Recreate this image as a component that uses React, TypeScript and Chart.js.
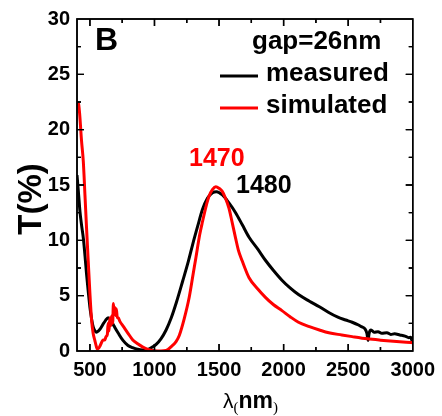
import React, { useEffect, useRef } from "react";
import { Chart, registerables } from "chart.js";

Chart.register(...registerables);

// ---- data ----
const measuredNm = [400, 410, 423, 435, 449, 462, 474, 487, 500, 513, 526, 540, 551, 565, 580, 603, 620, 641, 660, 680, 692, 720, 756, 795, 830, 870, 910, 936, 960, 990, 1013, 1050, 1090, 1130, 1170, 1218, 1260, 1295, 1335, 1372, 1410, 1449, 1480, 1526, 1575, 1628, 1680, 1731, 1800, 1859, 1920, 1987, 2050, 2115, 2200, 2277, 2346, 2420, 2480, 2531, 2580, 2602, 2630, 2645, 2654, 2662, 2677, 2700, 2731, 2760, 2800, 2830, 2859, 2900, 2940, 2970, 2985, 2995, 3000];
const measuredT = [15.9, 14.5, 12.6, 11.4, 10.2, 8.6, 6.95, 5.4, 3.95, 2.9, 2.15, 1.8, 1.7, 1.8, 2.0, 2.45, 2.75, 3.0, 2.8, 2.4, 2.15, 1.6, 0.96, 0.5, 0.3, 0.15, 0.1, 0.1, 0.2, 0.4, 0.6, 1.1, 1.9, 3.0, 4.4, 6.3, 8.0, 9.6, 11.3, 12.8, 13.8, 14.3, 14.4, 14.1, 13.4, 12.5, 11.4, 10.3, 9.2, 8.2, 7.3, 6.4, 5.7, 5.1, 4.5, 4.0, 3.5, 3.05, 2.8, 2.6, 2.35, 2.2, 2.0, 1.6, 0.95, 1.6, 1.9, 1.7, 1.75, 1.6, 1.65, 1.5, 1.55, 1.45, 1.35, 1.2, 1.25, 0.9, 1.0];

const simulatedNm = [400, 410, 420, 435, 449, 462, 474, 487, 500, 513, 525, 538, 550, 556, 565, 580, 603, 615, 625, 635, 641, 648, 655, 662, 670, 676, 682, 688, 695, 700, 705, 712, 720, 731, 760, 795, 832, 870, 910, 950, 1000, 1050, 1090, 1130, 1167, 1192, 1230, 1269, 1300, 1321, 1350, 1372, 1400, 1423, 1450, 1475, 1500, 1526, 1550, 1577, 1600, 1628, 1650, 1679, 1700, 1731, 1800, 1859, 1920, 1987, 2050, 2115, 2200, 2277, 2350, 2450, 2531, 2650, 2750, 2850, 2950, 3000];
const simulatedT = [22.4, 22.4, 21.5, 19.0, 17.1, 14.0, 11.1, 8.1, 5.2, 2.8, 1.6, 0.96, 0.4, 0.2, 0.2, 0.5, 1.0, 1.0, 1.3, 1.5, 2.5, 1.8, 3.0, 2.3, 3.2, 2.5, 4.3, 3.3, 3.9, 3.2, 3.8, 3.0, 3.0, 2.7, 2.2, 1.6, 1.0, 0.65, 0.35, 0.15, 0.03, 0, 0.05, 0.4, 0.85, 1.4, 2.9, 4.85, 7.0, 8.45, 10.5, 11.7, 13.1, 14.0, 14.6, 14.85, 14.7, 14.4, 13.8, 12.9, 11.7, 10.2, 9.1, 8.15, 7.5, 6.65, 5.6, 4.85, 4.2, 3.65, 3.1, 2.6, 2.2, 1.9, 1.65, 1.45, 1.3, 1.1, 0.98, 0.88, 0.8, 0.75];

const xTicks = [500, 1000, 1500, 2000, 2500, 3000];
const xMinorTicks = [500, 750, 1000, 1250, 1500, 1750, 2000, 2250, 2500, 2750, 3000];
const yTicks = [0, 5, 10, 15, 20, 25, 30];
const yMinorTicks = [0, 2.5, 5, 7.5, 10, 12.5, 15, 17.5, 20, 22.5, 25, 27.5, 30];

const panelLabel = "B";
const legendTitle = "gap=26nm";
const seriesNames = ["measured", "simulated"];
const peakLabels = ["1470", "1480"];
const yTitle = "T(%)";

const SANS = "'Liberation Sans', Arial, Helvetica, sans-serif";
const SERIF = "'Liberation Serif', 'Times New Roman', serif";

function drawFrame(chart: any) {
  const ctx = chart.ctx as CanvasRenderingContext2D;
  const xs = chart.scales.x;
  const ys = chart.scales.y;
  const L = xs.getPixelForValue(400);
  const R = xs.getPixelForValue(3000);
  const Tp = ys.getPixelForValue(30);
  const Bp = ys.getPixelForValue(0);
  ctx.save();
  ctx.globalAlpha = 1;
  ctx.globalCompositeOperation = "source-over";
  ctx.fillStyle = "#000000";
  ctx.beginPath();
  ctx.rect(L - 0.75, Tp - 0.75, R - L + 1.5, 1.5);
  ctx.rect(L - 0.75, Bp - 0.75, R - L + 1.5, 1.5);
  ctx.rect(L - 0.75, Tp - 0.75, 1.5, Bp - Tp + 1.5);
  ctx.rect(R - 0.75, Tp - 0.75, 1.5, Bp - Tp + 1.5);
  xMinorTicks.forEach((v) => {
    const px = xs.getPixelForValue(v);
    const len = v % 500 === 0 ? 7 : 4;
    ctx.rect(px - 0.7, Bp - len, 1.4, len);
    ctx.rect(px - 0.7, Tp, 1.4, len);
  });
  yMinorTicks.forEach((v) => {
    const py = ys.getPixelForValue(v);
    const len = v % 5 === 0 ? 7 : 4;
    ctx.rect(L, py - 0.7, len, 1.4);
    ctx.rect(R - len, py - 0.7, len, 1.4);
  });
  ctx.fill();
  ctx.restore();
}

const framePlugin = {
  id: "frame",
  afterDatasetsDraw(chart: any) {
    drawFrame(chart);
  },
  afterDraw(chart: any) {
    drawFrame(chart);
    const ctx = chart.ctx as CanvasRenderingContext2D;
    ctx.save();
    ctx.fillStyle = "#000";
    ctx.textAlign = "left";
    ctx.textBaseline = "alphabetic";
    ctx.font = `bold 32px ${SANS}`;
    ctx.fillText(panelLabel, 95, 50);

    ctx.font = `bold 26px ${SANS}`;
    ctx.fillText(legendTitle, 252, 49);
    ctx.fillText(seriesNames[0], 266, 81);
    ctx.fillText(seriesNames[1], 266, 113);
    ctx.fillRect(220, 74.5, 38, 3);
    ctx.fillStyle = "#ff0000";
    ctx.fillRect(220, 106.5, 38, 3);

    ctx.font = `bold 25px ${SANS}`;
    ctx.fillStyle = "#ff0000";
    ctx.fillText(peakLabels[0], 189, 166);
    ctx.fillStyle = "#000";
    ctx.fillText(peakLabels[1], 236, 193);

    ctx.save();
    ctx.translate(40.5, 199);
    ctx.rotate(-Math.PI / 2);
    ctx.textAlign = "center";
    ctx.font = `bold 33px ${SANS}`;
    ctx.fillText(yTitle, 0, 0);
    ctx.restore();

    let cx = 223;
    ctx.textAlign = "left";
    ctx.font = `21px ${SANS}`;
    ctx.fillText("λ", cx, 408);
    cx += ctx.measureText("λ").width;
    ctx.font = `15px ${SERIF}`;
    ctx.fillText("(", cx, 412);
    cx += ctx.measureText("(").width;
    ctx.font = `bold 23px ${SANS}`;
    ctx.fillText("nm", cx, 408);
    cx += ctx.measureText("nm").width;
    ctx.font = `15px ${SERIF}`;
    ctx.fillText(")", cx, 412);
    ctx.restore();
  },
};

export default function App() {
  const ref = useRef<HTMLCanvasElement | null>(null);

  useEffect(() => {
    if (!ref.current) return;
    const chart = new Chart(ref.current, {
      type: "line",
      data: {
        datasets: [
          {
            label: seriesNames[1],
            data: simulatedNm.map((v, i) => ({ x: v, y: simulatedT[i] })),
            borderColor: "#ff0000",
            borderWidth: 3,
            pointRadius: 0,
            fill: false,
            cubicInterpolationMode: "monotone",
          },
          {
            label: seriesNames[0],
            data: measuredNm.map((v, i) => ({ x: v, y: measuredT[i] })),
            borderColor: "#000000",
            borderWidth: 3,
            pointRadius: 0,
            fill: false,
            cubicInterpolationMode: "monotone",
          },
        ],
      },
      options: {
        animation: false,
        responsive: false,
        maintainAspectRatio: false,
        devicePixelRatio: 1,
        layout: { padding: { left: 0, top: 15, right: 27, bottom: 0 } },
        plugins: { legend: { display: false }, tooltip: { enabled: false } },
        scales: {
          x: {
            type: "linear",
            min: 400,
            max: 3000,
            grid: { display: false, drawTicks: false },
            border: { display: false },
            afterBuildTicks: (s: any) => {
              s.ticks = xTicks.map((v) => ({ value: v }));
            },
            afterFit: (s: any) => {
              s.height = 65;
            },
            ticks: {
              color: "#000",
              padding: 7,
              maxRotation: 0,
              autoSkip: false,
              font: { family: SANS, size: 20, weight: "bold" },
              callback: (v: any) => String(v),
            },
          },
          y: {
            type: "linear",
            min: 0,
            max: 30,
            grid: { display: false, drawTicks: false },
            border: { display: false },
            afterBuildTicks: (s: any) => {
              s.ticks = yTicks.map((v) => ({ value: v }));
            },
            afterFit: (s: any) => {
              s.width = 77;
            },
            ticks: {
              color: "#000",
              padding: 7,
              autoSkip: false,
              font: { family: SANS, size: 20, weight: "bold" },
              callback: (v: any) => String(v),
            },
          },
        },
      },
      plugins: [framePlugin],
    } as any);
    return () => chart.destroy();
  }, []);

  return (
    <div style={{ position: "fixed", left: 0, top: 0, width: 442, height: 416, background: "#fff" }}>
      <canvas ref={ref} width={442} height={416} style={{ display: "block", width: 442, height: 416 }} />
    </div>
  );
}
